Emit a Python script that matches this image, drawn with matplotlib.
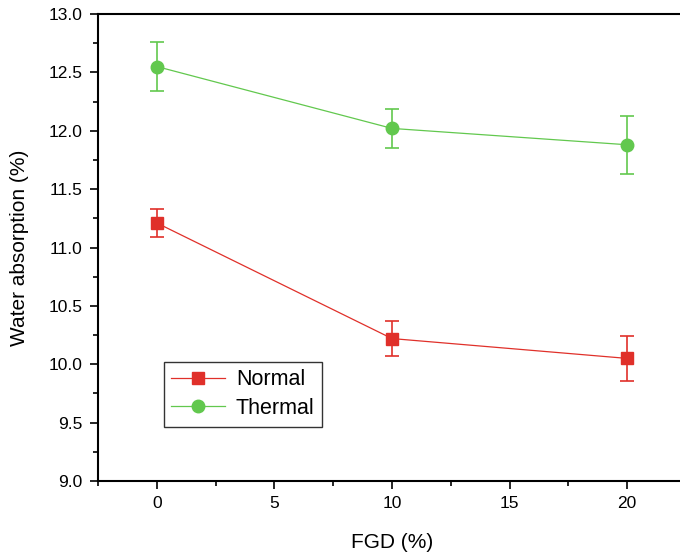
import numpy as np
import matplotlib.pyplot as plt
from matplotlib.ticker import MultipleLocator
from matplotlib.lines import Line2D

fgd = [0, 10, 20]
normal = [11.21, 10.22, 10.05]
normal_err = [0.12, 0.15, 0.19]
thermal = [12.55, 12.02, 11.88]
thermal_err = [0.21, 0.17, 0.25]

red = '#e0302a'
green = '#62c84e'

plt.rcParams['font.family'] = ['Liberation Sans', 'DejaVu Sans']

fig = plt.figure(figsize=(6.8, 5.59), dpi=100)
# axes run off the right edge like the original crop
ax = fig.add_axes([98 / 680, 1 - 481 / 559, (686 - 98) / 680, (481 - 14) / 559])

ax.errorbar(fgd, normal, yerr=normal_err, color=red, marker='s', ms=8,
            lw=0.9, elinewidth=1.2, capsize=5, capthick=1.2)
ax.errorbar(fgd, thermal, yerr=thermal_err, color=green, marker='o', ms=9,
            lw=0.9, elinewidth=1.2, capsize=5, capthick=1.2)

ax.set_xlim(-2.5, 22.5)
ax.set_ylim(9.0, 13.0)
ax.xaxis.set_major_locator(MultipleLocator(5))
ax.xaxis.set_minor_locator(MultipleLocator(2.5))
ax.yaxis.set_major_locator(MultipleLocator(0.5))
ax.yaxis.set_minor_locator(MultipleLocator(0.25))
ax.yaxis.set_major_formatter(plt.FormatStrFormatter('%.1f'))
ax.tick_params(which='major', length=6, width=1.2, labelsize=12.5, pad=5)
ax.tick_params(which='minor', length=3.5, width=1.2)
for s in ax.spines.values():
    s.set_linewidth(1.5)

ax.set_xlabel('FGD (%)', fontsize=15, labelpad=16)
ax.set_ylabel('Water absorption (%)', fontsize=15, labelpad=14)

handles = [Line2D([], [], color=red, marker='s', ms=8, lw=0.9),
           Line2D([], [], color=green, marker='o', ms=9, lw=0.9)]
leg = ax.legend(handles, ['Normal', 'Thermal'], loc='upper left',
                bbox_to_anchor=(0.112, 0.255), fontsize=15.5,
                frameon=True, fancybox=False, edgecolor='black',
                handlelength=2.5, borderpad=0.35, labelspacing=0.35,
                handletextpad=0.5, borderaxespad=0)
leg.get_frame().set_linewidth(1.0)

fig.savefig('out.png', dpi=100)
